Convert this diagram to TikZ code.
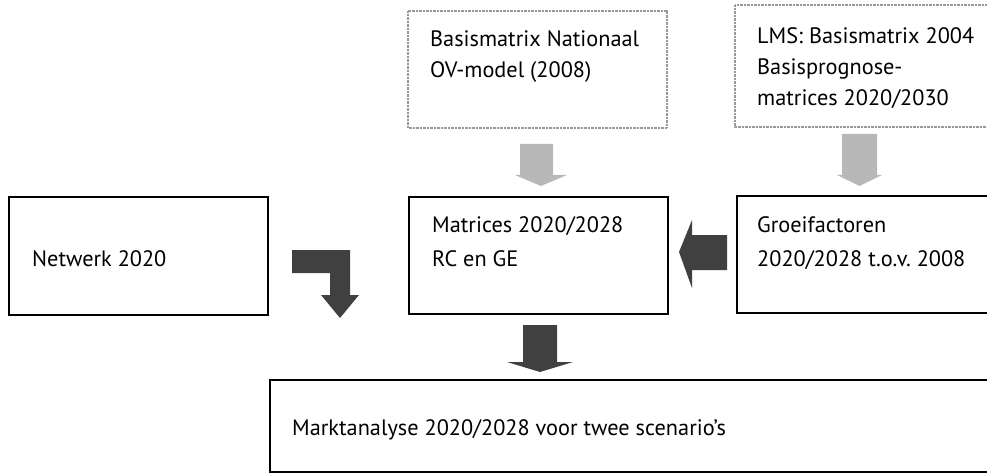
\documentclass[tikz,border=0pt]{standalone}
\usepackage{fontspec}
\setmainfont{PT Sans}
\begin{document}
\begin{tikzpicture}[x=1pt,y=-1pt,
  solidbox/.style={draw=black,line width=2.6pt,fill=none},
  dotbox/.style={draw=black!40,line width=1.3pt,dash pattern=on 0.8pt off 0.6pt},
  lbl/.style={anchor=base west,inner sep=0pt,font=\fontsize{22.3}{27}\selectfont},
  darkarrow/.style={fill=black!75,draw=none},
  lightarrow/.style={fill=black!28,draw=none}]
\clip (0,0) rectangle (987,473);
\useasboundingbox (0,0) rectangle (987,473);
% boxes
\draw[dotbox] (408,11) rectangle (667,128);
\draw[dotbox] (735,5) rectangle (1000,127);
\draw[solidbox] (9,197) rectangle (268,315);
\draw[solidbox] (409,197) rectangle (668,314);
\draw[solidbox] (737,196) rectangle (1000,313);
\draw[solidbox] (270,380) rectangle (1000,472);
% texts
\node[lbl] (t1a) at (430,47) {Basismatrix Nationaal};
\node[lbl] (t1b) at (430,78) {OV-model (2008)};
\node[lbl] (t2a) at (757,44) {LMS: Basismatrix 2004};
\node[lbl] (t2b) at (757,75) {Basisprognose-};
\node[lbl] (t2c) at (757,106) {matrices 2020/2030};
\node[lbl] (tn) at (32,266) {Netwerk 2020};
\node[lbl] (tm1) at (432,232) {Matrices 2020/2028};
\node[lbl] (tm2) at (432,266) {RC en GE};
\node[lbl] (tg1) at (757,232) {Groeifactoren};
\node[lbl] (tg2) at (757,266) {2020/2028 t.o.v.\ 2008};
\node[lbl] (tk) at (292,435) {Marktanalyse 2020/2028 voor twee scenario’s};
% light arrows
\fill[lightarrow] (520,144) -- (553,144) -- (553,175) -- (567,175) -- (541,186) -- (515,175) -- (520,175) -- cycle;
\fill[lightarrow] (842,134) -- (877,134) -- (877,175) -- (882,175) -- (859.5,186) -- (837,175) -- (842,175) -- cycle;
% dark arrows
\fill[darkarrow] (727,235) -- (692,235) -- (692,220) -- (679,252) -- (692,288) -- (692,270) -- (727,270) -- cycle;
\fill[darkarrow] (523,325) -- (557,325) -- (557,362) -- (573,362) -- (540,372) -- (507,362) -- (523,362) -- cycle;
\fill[darkarrow] (292,250) -- (350,250) -- (350,295) -- (359,295) -- (340,318) -- (321,295) -- (330,295) -- (330,273) -- (292,273) -- cycle;
\end{tikzpicture}
\end{document}
